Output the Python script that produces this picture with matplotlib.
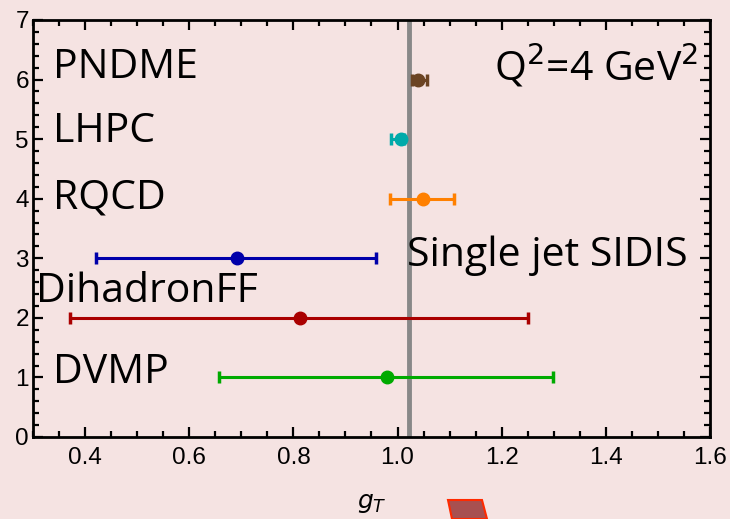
import matplotlib
matplotlib.use("Agg")
import matplotlib.pyplot as plt
from matplotlib.patches import Polygon
from matplotlib.ticker import MultipleLocator

# ── Data ──────────────────────────────────────────────────────────────────────
groups  = ["DVMP", "DihadronFF", "Single jet SIDIS", "RQCD", "LHPC", "PNDME"]
ypos    = [1, 2, 3, 4, 5, 6]
gT      = [0.979, 0.812, 0.692, 1.048, 1.006, 1.039]
err_lo  = [0.322, 0.441, 0.271, 0.063, 0.019, 0.012]
err_hi  = [0.320, 0.438, 0.267, 0.061, 0.006, 0.017]
colours = ["#00AA00", "#AA0000", "#0000AA", "#FF8000", "#00AAAA", "#6B4423"]
vline_x = 1.022

# label anchor (x, baseline y) in data units
label_x = [0.338, 0.306, 1.018, 0.338, 0.338, 0.338]
label_y = [0.906, 2.27, 2.87, 3.84, 4.95, 6.02]

BG = "#F5E3E2"

fig = plt.figure(figsize=(7.3, 5.19), dpi=100, facecolor=BG)
ax = fig.add_axes([0.0452, 0.158, 0.9274, 0.8035], facecolor=BG)

ax.axvline(vline_x, color="#888888", lw=3.5, zorder=1)

for y, x, lo, hi, c in zip(ypos, gT, err_lo, err_hi, colours):
    ax.errorbar(x, y, xerr=[[lo], [hi]], fmt="o", color=c, ms=9,
                elinewidth=2.2, capsize=4, capthick=2.5, zorder=3)

# ── Labels inside the frame ──────────────────────────────────────────────────
lab_font = dict(family="Open Sans", fontsize=29.5, color="black", zorder=5)
for name, lx, ly in zip(groups, label_x, label_y):
    ax.text(lx, ly, name, va="baseline", ha="left", clip_on=False, **lab_font)
ax.text(1.577, 5.99, "Q$^2$=4 GeV$^2$", va="baseline", ha="right", **lab_font)

# ── Axes styling ─────────────────────────────────────────────────────────────
ax.set_xlim(0.3, 1.6)
ax.set_ylim(0, 7)
ax.xaxis.set_minor_locator(MultipleLocator(0.05))
ax.yaxis.set_major_locator(MultipleLocator(1))
ax.yaxis.set_minor_locator(MultipleLocator(0.2))
ax.set_xticks([0.4, 0.6, 0.8, 1.0, 1.2, 1.4, 1.6])
ax.set_xticklabels(["0.4", "0.6", "0.8", "1.0", "1.2", "1.4", "1.6"])

ax.tick_params(which="both", direction="in", top=True, right=True,
               width=1.6, colors="black")
ax.tick_params(which="major", length=7, labelsize=17.5)
ax.tick_params(which="minor", length=4)
ax.tick_params(axis="x", pad=7)
ax.tick_params(axis="y", pad=3)
for lbl in ax.get_xticklabels() + ax.get_yticklabels():
    lbl.set_family("Liberation Sans")
for sp in ax.spines.values():
    sp.set_linewidth(2)

ax.set_xlabel("$g_T$", fontsize=18, labelpad=16)

# decorative slide marker at the bottom
fig.patches.append(Polygon([[448, 19], [482, 19], [487, 0], [452, 0]],
                           closed=True, transform=None,
                           facecolor="#A85050", edgecolor="#FF2A00", lw=1.5))

fig.savefig("out.png", dpi=100, facecolor=BG)
